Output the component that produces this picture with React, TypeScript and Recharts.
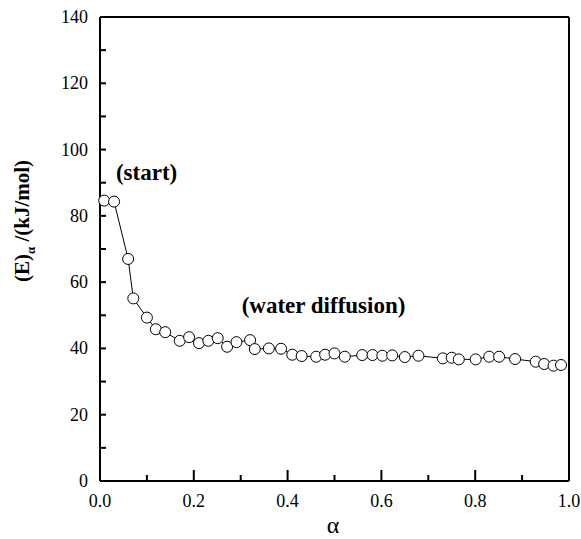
import React from 'react';
import { ComposedChart, Line, XAxis, YAxis, ReferenceLine, ReferenceDot, Label } from 'recharts';

const alphaValues = [0.009, 0.030, 0.060, 0.071, 0.100, 0.119, 0.139, 0.170, 0.190, 0.211, 0.231, 0.251, 0.271, 0.291, 0.320, 0.330, 0.360, 0.386, 0.410, 0.430, 0.461, 0.480, 0.500, 0.522, 0.559, 0.581, 0.602, 0.623, 0.650, 0.679, 0.731, 0.750, 0.765, 0.801, 0.830, 0.851, 0.885, 0.929, 0.947, 0.967, 0.983];
const energyValues = [84.6, 84.3, 67.0, 55.1, 49.3, 45.8, 44.9, 42.3, 43.4, 41.6, 42.3, 43.1, 40.5, 41.9, 42.5, 39.8, 40.0, 39.9, 38.1, 37.7, 37.5, 38.1, 38.5, 37.5, 38.0, 38.0, 37.8, 37.9, 37.4, 37.8, 37.0, 37.2, 36.7, 36.7, 37.5, 37.5, 36.8, 36.0, 35.3, 34.8, 35.0];

const xTicks = [0, 0.1, 0.2, 0.3, 0.4, 0.5, 0.6, 0.7, 0.8, 0.9, 1.0];
const xTickLabels = ['0.0', '', '0.2', '', '0.4', '', '0.6', '', '0.8', '', '1.0'];
const yTicks = [0, 10, 20, 30, 40, 50, 60, 70, 80, 90, 100, 110, 120, 130, 140];
const yTickLabels = ['0', '', '20', '', '40', '', '60', '', '80', '', '100', '', '120', '', '140'];

const startNote = { text: '(start)', x: 0.034, y: 90.8 };
const diffusionNote = { text: '(water diffusion)', x: 0.302, y: 50.7 };

const data = alphaValues.map((a, i) => ({ alpha: a, E: energyValues[i] }));

const FONT = "'Liberation Serif', 'Times New Roman', Times, serif";
const serif = { fontFamily: FONT };

const XTick = (props: any) => {
  const { x, y, index } = props;
  const label = xTickLabels[index] ?? '';
  const major = label !== '';
  const len = major ? 11 : 6;
  return (
    <g>
      <line x1={x} y1={y} x2={x} y2={y - len} stroke="#000" strokeWidth={2} />
      {major && (
        <text x={x} y={y + 26} textAnchor="middle" style={{ ...serif, fontSize: 18 }} fill="#000">
          {label}
        </text>
      )}
    </g>
  );
};

const YTick = (props: any) => {
  const { x, y, index } = props;
  const label = yTickLabels[index] ?? '';
  return (
    <g>
      <line x1={x} y1={y} x2={x + 6} y2={y} stroke="#000" strokeWidth={2} />
      {label !== '' && (
        <text x={x - 12} y={y + 6} textAnchor="end" style={{ ...serif, fontSize: 18 }} fill="#000">
          {label}
        </text>
      )}
    </g>
  );
};

const YLabel = () => (
  <text
    x={29}
    y={221}
    transform="rotate(-90 29 221)"
    textAnchor="middle"
    style={{ ...serif, fontSize: 21, fontWeight: 'bold' }}
    fill="#000"
  >
    (E)
    <tspan style={{ fontSize: 13 }} dy={6}>α</tspan>
    <tspan dy={-6}> /(kJ/mol)</tspan>
  </text>
);

const noteShape = (text: string) => (props: any) => (
  <text x={props.cx} y={props.cy} textAnchor="start" style={{ ...serif, fontSize: 23, fontWeight: 'bold' }} fill="#000">
    {text}
  </text>
);

const Marker = (props: any) => {
  const { cx, cy, index } = props;
  return <circle key={index} cx={cx} cy={cy} r={5.5} fill="#fff" stroke="#000" strokeWidth={1} />;
};

export default function App() {
  return (
    <div style={{ position: 'absolute', left: 0, top: 0, background: '#fff' }}>
      <ComposedChart
        width={581}
        height={539}
        data={data}
        margin={{ top: 17, right: 12, left: 0, bottom: 0 }}
      >
        <XAxis
          dataKey="alpha"
          type="number"
          domain={[0, 1]}
          ticks={xTicks}
          interval={0}
          height={58}
          tickSize={0}
          tickMargin={0}
          tickLine={false}
          axisLine={{ stroke: '#000', strokeWidth: 2 }}
          tick={XTick}
        >
          <Label
            content={() => (
              <text x={333} y={533} textAnchor="middle" style={{ ...serif, fontSize: 24 }} fill="#000">
                α
              </text>
            )}
          />
        </XAxis>
        <YAxis
          type="number"
          domain={[0, 140]}
          ticks={yTicks}
          interval={0}
          width={100}
          tickSize={0}
          tickMargin={0}
          tickLine={false}
          axisLine={{ stroke: '#000', strokeWidth: 2 }}
          tick={YTick}
        >
          <Label content={YLabel} />
        </YAxis>
        <ReferenceLine y={140} stroke="#000" strokeWidth={2} />
        <ReferenceLine x={1} stroke="#000" strokeWidth={2} />
        <Line
          dataKey="E"
          stroke="#000"
          strokeWidth={1}
          dot={Marker}
          activeDot={false}
          isAnimationActive={false}
        />
        <ReferenceDot x={startNote.x} y={startNote.y} r={0} shape={noteShape(startNote.text)} />
        <ReferenceDot x={diffusionNote.x} y={diffusionNote.y} r={0} shape={noteShape(diffusionNote.text)} />
      </ComposedChart>
    </div>
  );
}
